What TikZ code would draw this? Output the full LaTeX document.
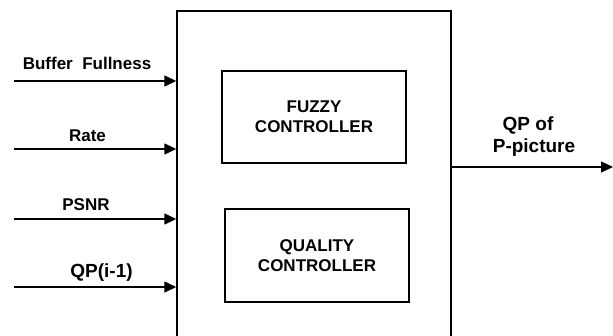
\documentclass[tikz,border=0pt]{standalone}
\usepackage{fontspec}
\setmainfont{Liberation Sans}
\usetikzlibrary{arrows.meta}
\begin{document}
\begin{tikzpicture}[x=1pt,y=-1pt,
  wire/.style={line width=1.4pt},
  sig/.style={wire,-{Triangle[length=12pt,width=11pt]}},
  blockbox/.style={draw,line width=1.4pt,inner sep=0pt},
  lbl/.style={font=\bfseries\fontsize{17}{19}\selectfont,inner sep=0pt},
  biglbl/.style={font=\bfseries\fontsize{19}{21}\selectfont,inner sep=0pt},
  ctl/.style={font=\bfseries\fontsize{17}{20}\selectfont,align=center,inner sep=0pt}]
\useasboundingbox (0,0) rectangle (613,335);
\begin{scope}
\clip (0,0) rectangle (613,335);
% outer block, its lower edge runs past the frame
\node[blockbox,minimum width=274pt,minimum height=340pt] (main) at (314,181) {};
\end{scope}
% inner controller blocks
\node[blockbox,minimum width=184pt,minimum height=92pt] (fuzzy) at (314,117) {};
\node[ctl] (fuzzyt) at (314,117) {FUZZY\\CONTROLLER};
\node[blockbox,minimum width=184pt,minimum height=93pt] (qual) at (317,255.5) {};
\node[ctl] (qualt) at (317,255.5) {QUALITY\\CONTROLLER};
% input signals
\coordinate (in1) at (14,81);
\coordinate (in2) at (14,149);
\coordinate (in3) at (14,219);
\coordinate (in4) at (14,287);
\draw[sig] (in1) -- (main.west |- in1);
\draw[sig] (in2) -- (main.west |- in2);
\draw[sig] (in3) -- (main.west |- in3);
\draw[sig] (in4) -- (main.west |- in4);
\node[lbl] (l1) at (87,63) {Buffer\ \ Fullness};
\node[lbl] (l2) at (87.5,136) {Rate};
\node[lbl] (l3) at (86,205) {PSNR};
\node[biglbl] (l4) at (101.5,273) {QP(i-1)};
% output signal
\coordinate (out) at (613,167);
\draw[sig] (main.east |- out) -- (out);
\node[biglbl] (o1) at (528,125) {QP of};
\node[biglbl] (o2) at (534,148) {P-picture};
\end{tikzpicture}
\end{document}
